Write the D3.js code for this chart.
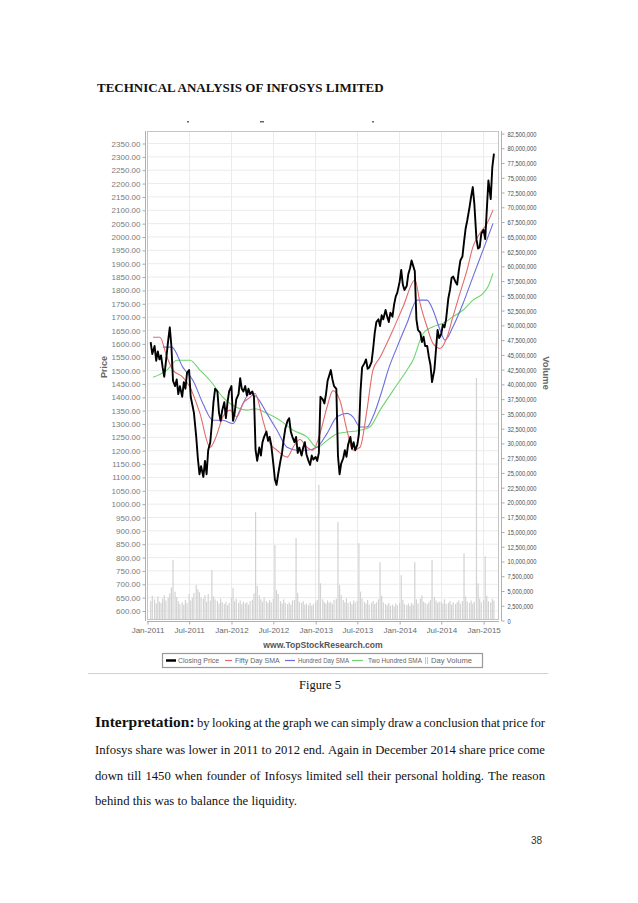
<!DOCTYPE html>
<html><head><meta charset="utf-8">
<script src="https://cdn.jsdelivr.net/npm/d3@7"></script>
<style>body{margin:0;background:#fff}svg{display:block}</style>
</head><body><svg id="c" width="638" height="903"></svg>
<script>
// ---------------- DATA ----------------
const months = ["2011-01","2011-02","2011-03","2011-04","2011-05","2011-06","2011-07","2011-08","2011-09","2011-10","2011-11","2011-12",
"2012-01","2012-02","2012-03","2012-04","2012-05","2012-06","2012-07","2012-08","2012-09","2012-10","2012-11","2012-12",
"2013-01","2013-02","2013-03","2013-04","2013-05","2013-06","2013-07","2013-08","2013-09","2013-10","2013-11","2013-12",
"2014-01","2014-02","2014-03","2014-04","2014-05","2014-06","2014-07","2014-08","2014-09","2014-10","2014-11","2014-12",
"2015-01","2015-02"];

// weekly closing prices (4 per month)
const closeWeekly = [
[null,null,1605,1560],[1590,1535,1570,1540],[1555,1510,1475,1530],[1610,1660,1590,1460],[1440,1465,1410,1440],[1400,1455,1430,1490],
[1500,1400,1370,1340],[1250,1170,1110,1140],[1100,1160,1110,1200],[1230,1300,1380,1430],[1420,1340,1310,1350],[1380,1320,1380,1420],
[1440,1310,1340,1390],[1410,1470,1430,1420],[1440,1405,1430,1410],[1420,1400,1200,1160],[1210,1180,1230,1250],[1270,1235,1250,1220],
[1150,1090,1070,1110],[1160,1190,1240,1280],[1310,1320,1270,1250],[1230,1250,1190,1210],[1180,1210,1230,1185],[1160,1145,1180,1165],
[1175,1160,1190,1400],[1390,1375,1410,1460],[1480,1500,1465,1440],[1430,1180,1110,1150],[1170,1200,1175,1220],[1250,1205,1230,1200],
[1220,1260,1420,1510],[1525,1540,1505,1510],[1530,1580,1640,1680],[1690,1665,1705,1690],[1725,1700,1680,1715],[1700,1745,1775,1790],
[1830,1875,1820,1800],[1815,1860,1880,1910],[1890,1870,1690,1650],[1640,1605,1625,1590],[1590,1550,1520,1455],[1500,1575,1650,1620],
[1635,1670,1660,1690],[1770,1800,1845,1850],[1830,1820,1870,1910],[1925,1980,2030,2060],[2110,2150,2185,2120],[1990,1955,1960,2010],
[2025,1990,2100,2210],[2140,2260,2310,null]
];

// weekly volume, millions of shares
const volumeWeekly = [
[null,null,3.2,4.1],[3.5,2.8,4.0,3.1],[2.9,3.6,4.2,3.3],[3.8,4.5,5.5,10.2],[4.8,3.9,3.2,2.7],[3.0,2.6,3.4,2.9],
[4.4,3.3,3.8,4.6],[5.9,5.2,4.7,3.8],[3.6,4.2,3.1,4.4],[3.3,8.5,4.0,3.5],[3.2,2.8,3.6,3.0],[2.7,3.1,2.5,2.9],
[3.8,5.4,3.2,3.6],[2.9,3.3,2.7,3.1],[2.8,3.0,2.6,3.2],[3.4,4.5,18.3,5.8],[4.2,3.5,3.1,3.8],[3.2,2.9,3.4,3.0],
[3.6,12.7,5.1,4.4],[3.2,2.8,3.5,2.9],[2.7,3.0,2.6,3.3],[3.4,13.9,4.6,3.1],[2.9,3.2,2.6,2.8],[2.5,2.9,2.4,2.7],
[3.0,3.4,22.9,6.2],[3.5,3.0,2.8,3.3],[2.9,3.1,2.7,3.4],[3.6,16.6,5.9,4.2],[3.4,3.0,3.7,2.9],[3.1,2.7,3.3,3.0],
[3.2,13.0,4.8,3.6],[3.1,2.8,3.4,2.6],[2.9,3.2,2.7,3.0],[3.5,9.8,4.1,3.0],[2.7,2.5,2.9,2.4],[2.6,2.3,2.8,2.5],
[2.9,7.6,3.4,2.7],[2.5,2.8,2.4,2.9],[2.6,9.8,3.5,2.8],[3.6,4.2,3.1,2.9],[2.7,3.0,3.4,10.2],[3.9,3.3,2.9,3.1],
[3.1,2.8,3.5,2.7],[2.9,3.2,2.6,3.0],[2.7,3.0,3.3,2.8],[3.2,11.3,4.0,3.1],[2.9,3.3,2.8,3.1],[41.0,6.2,3.6,3.0],
[3.4,10.8,4.1,3.2],[3.0,3.6,3.3,null]
];

const sma50Dates = ["2011-01-27","2011-02-26","2011-03-29","2011-04-24","2011-06-06","2011-07-07","2011-08-19","2011-10-02","2011-10-28","2011-11-27","2011-12-28",
"2012-01-27","2012-02-22","2012-03-24","2012-04-14","2012-05-19","2012-06-19","2012-07-19","2012-09-01","2012-09-27","2012-10-27","2012-11-26","2012-12-22",
"2013-01-22","2013-02-21","2013-03-19","2013-04-19","2013-05-19","2013-06-14","2013-07-15","2013-08-14","2013-09-09","2013-10-10","2013-12-05",
"2014-01-18","2014-03-11","2014-04-02","2014-05-02","2014-05-28","2014-06-28","2014-07-28","2014-08-23","2014-09-22","2014-10-23","2014-11-18","2014-12-18",
"2015-01-18","2015-02-13"];
const sma50Values = [1623,1623,1548,1500,1473,1436,1338,1211,1250,1325,1350,
1325,1375,1398,1413,1312,1224,1200,1174,1211,1240,1211,1200,
1262,1360,1423,1385,1275,1200,1211,1350,1500,1548,1650,
1737,1837,1750,1662,1600,1581,1623,1700,1787,1874,1962,2012,
2049,2099];

const sma100Dates = ["2011-03-11","2011-04-19","2011-06-06","2011-07-20","2011-09-01","2011-10-15","2011-11-27",
"2012-01-10","2012-02-09","2012-03-24","2012-04-23","2012-06-05","2012-07-19","2012-09-01","2012-10-14","2012-11-26",
"2013-01-09","2013-02-21","2013-04-06","2013-05-19","2013-06-14","2013-07-15","2013-08-14","2013-09-09","2013-10-23","2013-11-14","2013-12-23",
"2014-02-04","2014-03-20","2014-05-02","2014-05-28","2014-06-28","2014-07-19","2014-08-23","2014-10-06","2014-11-18",
"2015-01-01","2015-02-13"];
const sma100Values = [1586,1586,1510,1461,1375,1312,1312,
1300,1350,1413,1398,1338,1275,1211,1200,1200,
1211,1262,1325,1338,1325,1287,1287,1325,1436,1500,1586,
1675,1762,1762,1725,1650,1612,1662,1750,1850,
1950,2049];

const sma200Dates = ["2011-01-27","2011-03-29","2011-05-11","2011-07-07","2011-08-19","2011-10-02","2011-11-27",
"2012-01-27","2012-03-10","2012-04-14","2012-06-05","2012-08-01","2012-09-27","2012-11-26",
"2013-01-09","2013-02-21","2013-04-06","2013-05-19","2013-07-15","2013-08-27","2013-10-10","2013-12-05",
"2014-02-04","2014-03-02","2014-04-15","2014-05-28","2014-07-11","2014-08-23","2014-10-06","2014-11-18",
"2015-01-01","2015-01-22","2015-02-13"];
const sma200Values = [1473,1500,1537,1537,1500,1461,1398,
1360,1350,1355,1338,1312,1275,1250,
1211,1236,1262,1268,1275,1287,1350,1423,
1500,1537,1637,1662,1675,1700,1725,1762,
1787,1812,1862];

const priceTicks = [600,650,700,750,800,850,900,950,1000,1050,1100,1150,1200,1250,1300,1350,1400,1450,1500,1550,1600,1650,1700,1750,1800,1850,1900,1950,2000,2050,2100,2150,2200,2250,2300,2350];
const volumeTicks = [0,2500000,5000000,7500000,10000000,12500000,15000000,17500000,20000000,22500000,25000000,27500000,30000000,32500000,35000000,37500000,40000000,42500000,45000000,47500000,50000000,52500000,55000000,57500000,60000000,62500000,65000000,67500000,70000000,72500000,75000000,77500000,80000000,82500000];
const xTickDates = ["2011-01-01","2011-07-01","2012-01-01","2012-07-01","2013-01-01","2013-07-01","2014-01-01","2014-07-01","2015-01-01"];
const xTickLabels = ["Jan-2011","Jul-2011","Jan-2012","Jul-2012","Jan-2013","Jul-2013","Jan-2014","Jul-2014","Jan-2015"];
const legendLabels = ["Closing Price","Fifty Day SMA","Hundred Day SMA","Two Hundred SMA","Day Volume"];

// ---------------- DRAW ----------------
const svg = d3.select("#c");
svg.append("rect").attr("width",638).attr("height",903).attr("fill","#fff");
const parse = d3.timeParse("%Y-%m-%d");
const pm = d3.timeParse("%Y-%m");

function weekly(arr){
  const out=[];
  months.forEach((m,i)=>{const d0=pm(m);arr[i].forEach((v,k)=>{if(v!=null)out.push({date:new Date(d0.getFullYear(),d0.getMonth(),3+7*k),v});});});
  return out;
}
const closeData = weekly(closeWeekly);
const volData = weekly(volumeWeekly);

const L=147,R=499,T=131,B=620;
const x = d3.scaleTime().domain([new Date(2011,0,1), new Date(2015,2,11)]).range([L,R]);
const y = d3.scaleLinear().domain([600,2350]).range([610.5,143]);
const yv = d3.scaleLinear().domain([0,82500000]).range([B,133]);

// title
svg.append("text").attr("x",97).attr("y",92).attr("font-family","Liberation Serif").attr("font-weight","bold")
  .attr("font-size",13).attr("fill","#111").text("TECHNICAL ANALYSIS OF INFOSYS LIMITED");

// small remnants at top of chart image
[[187,121,2],[260,121,4],[372,121,2]].forEach(d=>svg.append("rect").attr("x",d[0]).attr("y",d[1]).attr("width",d[2]).attr("height",1.5).attr("fill","#666"));

// grid
const g = svg.append("g");
g.selectAll(".hg").data(priceTicks).join("line").attr("x1",L).attr("x2",R).attr("y1",d=>y(d)+0.5).attr("y2",d=>y(d)+0.5).attr("stroke","#ebebeb");
g.selectAll(".vg").data(xTickDates.slice(1)).join("line").attr("x1",d=>Math.round(x(parse(d)))+0.5).attr("x2",d=>Math.round(x(parse(d)))+0.5).attr("y1",T).attr("y2",B).attr("stroke","#ebebeb");

// volume bars
g.selectAll(".vb").data(volData).join("rect").attr("x",d=>x(d.date)-0.6).attr("width",1.2)
  .attr("y",d=>yv(d.v*1e6)).attr("height",d=>B-yv(d.v*1e6)).attr("fill","#d2d2d2");

// SMA lines
const line = d3.line().x(d=>x(d.date)).y(d=>y(d.v));
function series(dates, vals){return dates.map((d,i)=>({date:parse(d),v:vals[i]}));}
g.append("path").datum(series(sma200Dates,sma200Values)).attr("d",line.curve(d3.curveMonotoneX)).attr("fill","none").attr("stroke","#6fd46f").attr("stroke-width",1.1);
g.append("path").datum(series(sma100Dates,sma100Values)).attr("d",line.curve(d3.curveMonotoneX)).attr("fill","none").attr("stroke","#6d6ddf").attr("stroke-width",1.1);
g.append("path").datum(series(sma50Dates,sma50Values)).attr("d",line.curve(d3.curveMonotoneX)).attr("fill","none").attr("stroke","#e56a6a").attr("stroke-width",1.1);
// close
g.append("path").datum(closeData).attr("d",d3.line().x(d=>x(d.date)).y(d=>y(d.v))).attr("fill","none").attr("stroke","#000").attr("stroke-width",1.9).attr("stroke-linejoin","round");

// plot border
svg.append("rect").attr("x",L+0.5).attr("y",T+0.5).attr("width",R-L-1).attr("height",B-T-1).attr("fill","none").attr("stroke","#c4c4c4");
svg.append("line").attr("x1",145.5).attr("x2",145.5).attr("y1",T).attr("y2",B+1).attr("stroke","#b0b0b0");
svg.append("line").attr("x1",501.5).attr("x2",501.5).attr("y1",T).attr("y2",B+1).attr("stroke","#b0b0b0");
svg.append("line").attr("x1",L).attr("x2",R).attr("y1",621.5).attr("y2",621.5).attr("stroke","#b0b0b0");

// axes
const axL = svg.append("g").attr("transform","translate(145.5,0.5)")
  .call(d3.axisLeft(y).tickValues(priceTicks).tickFormat(d3.format(".2f")).tickSize(3).tickPadding(2));
const axR = svg.append("g").attr("transform","translate(501.5,0.5)")
  .call(d3.axisRight(yv).tickValues(volumeTicks).tickFormat(d3.format(",")).tickSize(3).tickPadding(3));
const axB = svg.append("g").attr("transform","translate(0.5,621.5)")
  .call(d3.axisBottom(x).tickValues(xTickDates.map(parse)).tickFormat((d,i)=>xTickLabels[i]).tickSize(3).tickPadding(3));
[axL,axR,axB].forEach(a=>{a.select(".domain").remove();a.selectAll("line").attr("stroke","#aaa");});
axL.selectAll("text").attr("font-family","Liberation Sans").attr("font-size",8).attr("fill","#7a7a7a");
axR.selectAll("text").attr("font-family","Liberation Sans").attr("font-size",7.8).attr("fill","#4a4a4a")
  .each(function(){const w=this.getComputedTextLength();d3.select(this).attr("textLength",w*0.74).attr("lengthAdjust","spacingAndGlyphs");});
axB.selectAll("text").attr("font-family","Liberation Sans").attr("font-size",8).attr("fill","#6a6a6a");

// axis titles
svg.append("text").attr("transform","translate(107,367) rotate(-90)").attr("text-anchor","middle")
  .attr("font-family","Liberation Sans").attr("font-weight","bold").attr("font-size",9).attr("fill","#666").text("Price");
svg.append("text").attr("transform","translate(543,373) rotate(90)").attr("text-anchor","middle")
  .attr("font-family","Liberation Sans").attr("font-weight","bold").attr("font-size",9.5).attr("fill","#666").text("Volume");

svg.append("text").attr("x",323).attr("y",648).attr("text-anchor","middle").attr("font-family","Liberation Sans")
  .attr("font-weight","bold").attr("font-size",8.6).attr("fill","#555").text("www.TopStockResearch.com");

// legend
svg.append("rect").attr("x",162.5).attr("y",653.5).attr("width",320).attr("height",14).attr("fill","#fff").attr("stroke","#999").attr("stroke-width",1.2);
const legItems = [
  {c:"#000",w:2.5,x0:166,x1:176,tx:178,tw:null},
  {c:"#e56a6a",w:1.2,x0:225,x1:232,tx:235,tw:null},
  {c:"#6d6ddf",w:1.2,x0:285,x1:295,tx:298,tw:51},
  {c:"#6fd46f",w:1.2,x0:352,x1:363,tx:368,tw:54},
];
legItems.forEach((it,i)=>{
  svg.append("line").attr("x1",it.x0).attr("x2",it.x1).attr("y1",660.5).attr("y2",660.5).attr("stroke",it.c).attr("stroke-width",it.w);
  const t = svg.append("text").attr("x",it.tx).attr("y",663.3).attr("font-family","Liberation Sans").attr("font-size",7).attr("fill","#666").text(legendLabels[i]);
  if(it.tw) t.attr("textLength",it.tw).attr("lengthAdjust","spacingAndGlyphs");
});
svg.append("rect").attr("x",425).attr("y",657).attr("width",0.8).attr("height",7).attr("fill","#bbb");
svg.append("rect").attr("x",427).attr("y",657).attr("width",0.8).attr("height",7).attr("fill","#bbb");
svg.append("text").attr("x",431).attr("y",663.3).attr("font-family","Liberation Sans").attr("font-size",7.6).attr("fill","#666").text(legendLabels[4]);

// separator line
svg.append("line").attr("x1",88).attr("x2",548).attr("y1",673.5).attr("y2",673.5).attr("stroke","#d0d0d0");

// figure caption
svg.append("text").attr("x",320).attr("y",689).attr("text-anchor","middle").attr("font-family","Liberation Serif")
  .attr("font-size",12.5).attr("fill","#111").text("Figure 5");

// paragraph (justified)
function justify(words, yb, x0, x1, just){
  const els = words.map(w=>svg.append("text").attr("y",yb).attr("font-family","Liberation Serif")
    .attr("font-size",w.s).attr("font-weight",w.b?"bold":"normal").attr("fill","#111").text(w.t));
  const ws = els.map(e=>e.node().getComputedTextLength());
  const gap = just ? (x1-x0-d3.sum(ws))/(words.length-1) : 3.3;
  let cx=x0; els.forEach((e,i)=>{e.attr("x",cx); cx+=ws[i]+gap;});
}
const W = s=>s.split(" ").map(t=>({t,s:12.7}));
justify([{t:"Interpretation:",s:15.5,b:true}].concat(W("by looking at the graph we can simply draw a conclusion that price for")),727,95,545,true);
justify(W("Infosys share was lower in 2011 to 2012 end. Again in December 2014 share price come"),754,95,545,true);
justify(W("down till 1450 when founder of Infosys limited sell their personal holding. The reason"),780,95,545,true);
justify(W("behind this was to balance the liquidity."),805,95,545,false);

svg.append("text").attr("x",531).attr("y",844).attr("font-family","Liberation Sans").attr("font-size",10).attr("fill","#333").text("38");
</script></body></html>
